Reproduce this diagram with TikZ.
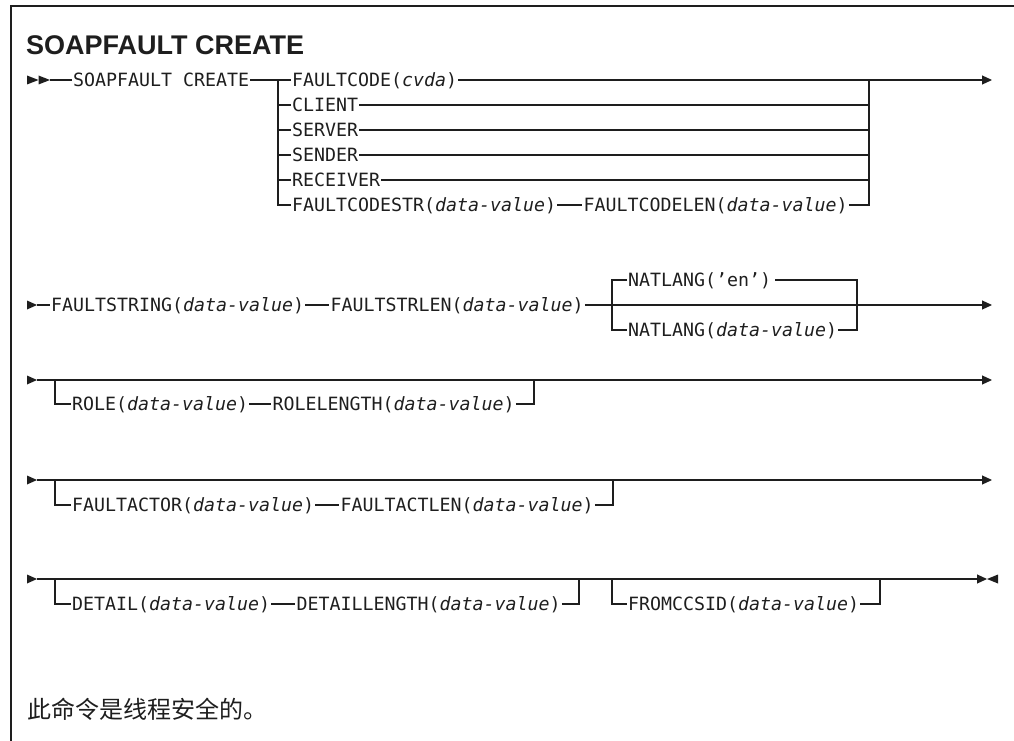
\documentclass[tikz,border=0pt]{standalone}
\usepackage{fontspec}
\usetikzlibrary{arrows.meta,positioning}
\newfontfamily\kwfamily{DejaVu Sans Mono}[ItalicFont={DejaVu Sans Mono Oblique}]
\newfontfamily\headfamily{Liberation Sans}
\newfontfamily\cjkfamily{Noto Sans CJK SC}
\newcommand\kwfont{\kwfamily\fontsize{18.27}{22}\selectfont}
\newcommand\dv[1]{\textit{#1}}
\definecolor{ink}{HTML}{1E1E1E}

\tikzset{
  kw/.style={font=\kwfont, anchor=west, inner xsep=1pt, inner ysep=0pt,
             text height=13.3pt, text depth=0pt, text=ink},
  rail/.style={draw=ink, line width=1.1pt},
  railend/.style={rail, -{Triangle[length=10pt,width=9pt]}},
  heading/.style={font=\headfamily\bfseries\fontsize{27}{30}\selectfont,
                  anchor=base west, inner sep=0pt, text=ink},
  note/.style={font=\cjkfamily\fontsize{24}{28}\selectfont,
               anchor=base west, inner sep=0pt, text=ink}
}

\begin{document}
\begin{tikzpicture}[x=1pt,y=-1pt]
\useasboundingbox (0,0) rectangle (1014,741);

% frame
\draw[ink, line width=1.3pt] (11,741) -- (11,6) -- (1014,6);

% heading
\node[heading] (head) at (26,55) {SOAPFAULT CREATE};

% ---------------- row 1 ----------------
\coordinate (r1s) at (50,80);
\fill[ink] (27,75.5) -- (38.5,80) -- (27,84.5) -- cycle;
\fill[ink] (38.5,75.5) -- (50,80) -- (38.5,84.5) -- cycle;
\node[kw] (cmd) at (72,80) {SOAPFAULT CREATE};
\coordinate (r1L) at (278,80);
\coordinate (r1R) at (869,80);
\coordinate (r1E) at (992,80);
\node[kw] (fc)  at (291,80)  {FAULTCODE(\dv{cvda})};
\node[kw] (cli) at (291,105) {CLIENT};
\node[kw] (srv) at (291,130) {SERVER};
\node[kw] (snd) at (291,155) {SENDER};
\node[kw] (rcv) at (291,180) {RECEIVER};
\node[kw] (fcs) at (291,205) {FAULTCODESTR(\dv{data-value})};
\node[kw, right=25pt of fcs] (fcl) {FAULTCODELEN(\dv{data-value})};

\draw[rail] (r1s) -- (cmd.west);
\draw[rail] (cmd.east) -- (fc.west);
\draw[railend] (fc.east) -- (r1E);
\draw[rail] (r1L) -- (r1L |- fcs.west) -- (fcs.west);
\foreach \b in {cli,srv,snd,rcv}{
  \draw[rail] (r1L |- \b.west) -- (\b.west);
  \draw[rail] (\b.east) -- (r1R |- \b.east);
}
\draw[rail] (fcs.east) -- (fcl.west);
\draw[rail] (fcl.east) -- (r1R |- fcl.east) -- (r1R);

% ---------------- row 2 ----------------
\coordinate (r2s) at (37,305);
\fill[ink] (27,300.5) -- (r2s) -- (27,309.5) -- cycle;
\node[kw] (fs) at (50,305) {FAULTSTRING(\dv{data-value})};
\node[kw, right=24pt of fs] (fsl) {FAULTSTRLEN(\dv{data-value})};
\coordinate (r2L) at (612,305);
\coordinate (r2R) at (857,305);
\coordinate (r2E) at (992,305);
\node[kw] (nat1) at (627,280) {NATLANG(’en’)};
\node[kw] (nat2) at (627,330) {NATLANG(\dv{data-value})};

\draw[rail] (r2s) -- (fs.west);
\draw[rail] (fs.east) -- (fsl.west);
\draw[railend] (fsl.east) -- (r2E);
\draw[rail] (nat1.west) -- (r2L |- nat1.west) -- (r2L |- nat2.west) -- (nat2.west);
\draw[rail] ([xshift=3pt]nat1.east) -- (r2R |- nat1.east) -- (r2R |- nat2.east) -- (nat2.east);

% ---------------- row 3 ----------------
\coordinate (r3s) at (37,380);
\fill[ink] (27,375.5) -- (r3s) -- (27,384.5) -- cycle;
\coordinate (r3L) at (55,380);
\coordinate (r3R) at (534,380);
\coordinate (r3E) at (992,380);
\node[kw] (role) at (71,404) {ROLE(\dv{data-value})};
\node[kw, right=22pt of role] (rolel) {ROLELENGTH(\dv{data-value})};

\draw[railend] (r3s) -- (r3E);
\draw[rail] (r3L) |- (role.west);
\draw[rail] (role.east) -- (rolel.west);
\draw[rail] (rolel.east) -| (r3R);

% ---------------- row 4 ----------------
\coordinate (r4s) at (37,480);
\fill[ink] (27,475.5) -- (r4s) -- (27,484.5) -- cycle;
\coordinate (r4L) at (55,480);
\coordinate (r4R) at (613,480);
\coordinate (r4E) at (992,480);
\node[kw] (fa) at (71,505) {FAULTACTOR(\dv{data-value})};
\node[kw, right=24pt of fa] (fal) {FAULTACTLEN(\dv{data-value})};

\draw[railend] (r4s) -- (r4E);
\draw[rail] (r4L) |- (fa.west);
\draw[rail] (fa.east) -- (fal.west);
\draw[rail] (fal.east) -| (r4R);

% ---------------- row 5 ----------------
\coordinate (r5s) at (37,579);
\fill[ink] (27,574.5) -- (r5s) -- (27,583.5) -- cycle;
\coordinate (r5L) at (55,579);
\coordinate (r5R) at (579,579);
\coordinate (r5L2) at (612,579);
\coordinate (r5R2) at (880,579);
\coordinate (r5E) at (987,579);
\node[kw] (det) at (71,604) {DETAIL(\dv{data-value})};
\node[kw, right=24pt of det] (detl) {DETAILLENGTH(\dv{data-value})};
\node[kw] (ccs) at (627,604) {FROMCCSID(\dv{data-value})};

\draw[railend] (r5s) -- (r5E);
\fill[ink] (998,574.5) -- (r5E) -- (998,583.5) -- cycle;
\draw[rail] (r5L) |- (det.west);
\draw[rail] (det.east) -- (detl.west);
\draw[rail] (detl.east) -| (r5R);
\draw[rail] (r5L2) |- (ccs.west);
\draw[rail] (ccs.east) -| (r5R2);

% remark
\node[note] (rem) at (27,718) {此命令是线程安全的。};
\end{tikzpicture}
\end{document}
